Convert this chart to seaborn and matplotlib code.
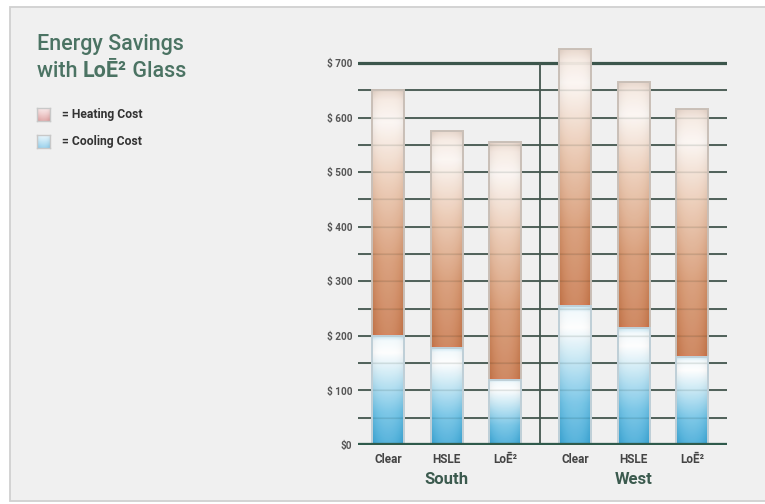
import numpy as np
import pandas as pd
import matplotlib
matplotlib.use("Agg")
import matplotlib.pyplot as plt
import seaborn as sns
from matplotlib.colors import LinearSegmentedColormap
from matplotlib.patches import Rectangle
from matplotlib.transforms import blended_transform_factory

# ---- data ----
regions = ["South", "South", "South", "West", "West", "West"]
glass_types = ["Clear", "HSLE", "LoĒ²", "Clear", "HSLE", "LoĒ²"]
total_cost = [650, 575, 555, 725, 665, 615]      # heating + cooling
cooling_cost = [200, 178, 120, 255, 215, 162]
positions = [0, 1, 2, 3.2, 4.2, 5.2]
y_ticks = [0, 100, 200, 300, 400, 500, 600, 700]
y_tick_labels = ["$0", "$ 100", "$ 200", "$ 300", "$ 400", "$ 500", "$ 600", "$ 700"]
grid_values = list(range(50, 700, 50))

sns.set_theme(style="white")
plt.rcParams["font.family"] = ["Roboto", "DejaVu Sans"]

W, H = 765, 504
fig = plt.figure(figsize=(W / 100, H / 100), dpi=100, facecolor="white")
fig.patches.append(Rectangle((10 / W, 3 / H), 760 / W, 494 / H, transform=fig.transFigure,
                             facecolor="#f0f0f0", edgecolor="#d0d0d0", lw=1.3, zorder=-10))

px_per_unit = 0.5457
ax = fig.add_axes([358 / W, 59 / H, 369 / W, 740 * px_per_unit / H])
ax.set_facecolor("none")

df = pd.DataFrame({"pos": positions, "total": total_cost, "cooling": cooling_cost,
                   "glass": glass_types, "region": regions})

bar_w = 0.547
sns.barplot(data=df, x="pos", y="total", native_scale=True, width=bar_w, errorbar=None,
            color="#c8794a", edgecolor="#c9bfb7", linewidth=1.4, ax=ax, zorder=3)
sns.barplot(data=df, x="pos", y="cooling", native_scale=True, width=bar_w, errorbar=None,
            color="#3aa6d6", edgecolor="#bfd0d8", linewidth=1.4, ax=ax, zorder=3)


def grad_img(stops, n=256, m=40):
    cmap = LinearSegmentedColormap.from_list("g", stops)
    v = cmap(np.linspace(0, 1, n))[:, :3]
    u = np.linspace(-1, 1, m)
    light = 0.16 * (1 - u ** 2)
    img = v[:, None, :] + (1 - v[:, None, :]) * light[None, :, None]
    img = img * (1 - 0.05 * u[None, :, None] ** 4)
    return np.clip(img, 0, 1)


heat_stops = [(0.0, "#cf6638"), (0.015, "#c46d3d"), (0.3, "#d28a5e"), (0.6, "#e8c0a5"),
              (0.87, "#fcf6f2"), (0.96, "#f6e8df"), (1.0, "#e4d0c3")]
cool_stops = [(0.0, "#2a9fd3"), (0.3, "#5dbbe3"), (0.62, "#bfe5f4"),
              (0.84, "#ffffff"), (0.95, "#f2fafd"), (1.0, "#b8e0f1")]
heat_img = grad_img(heat_stops)
cool_img = grad_img(cool_stops)

tot_bars = ax.containers[0]
cool_bars = ax.containers[1]
for pt, pc in zip(tot_bars, cool_bars):
    x0, w = pt.get_x(), pt.get_width()
    top, ctop = pt.get_height(), pc.get_height()
    ax.imshow(heat_img, extent=[x0, x0 + w, ctop, top], origin="lower", aspect="auto",
              interpolation="bilinear", zorder=2.5, alpha=0.94)
    ax.imshow(cool_img, extent=[x0, x0 + w, 0, ctop], origin="lower", aspect="auto",
              interpolation="bilinear", zorder=2.5, alpha=0.94)
    pt.set_facecolor("none")
    pc.set_facecolor("none")

# grid lines
line_col = "#44574f"
for v in grid_values:
    ax.axhline(v, color=line_col, lw=1.3, zorder=1)
    ax.axhline(v, color=line_col, lw=1.0, zorder=2.7, alpha=0.10)
ax.axhline(700, color="#3c564c", lw=2.3, zorder=1)
ax.axhline(0, color="#2f5a4b", lw=3.8, zorder=4)
sep = (positions[2] + positions[3]) / 2
ax.plot([sep, sep], [0, 700], color=line_col, lw=1.3, zorder=1)

ax.set_xlim(-0.513, 5.795)
ax.set_ylim(0, 740)
for s in ax.spines.values():
    s.set_visible(False)
ax.set_xlabel("")
ax.set_ylabel("")

ax.set_yticks(y_ticks, y_tick_labels)
ax.tick_params(axis="y", length=0, pad=4.3, labelsize=7.2, labelcolor="#555555")
for lab in ax.get_yticklabels():
    lab.set_fontweight("bold")
ax.set_xticks(positions, glass_types)
ax.tick_params(axis="x", length=0, pad=5.5, labelsize=8.5, labelcolor="#444444")
for lab in ax.get_xticklabels():
    lab.set_fontweight("bold")

# group labels
tr = blended_transform_factory(ax.transData, fig.transFigure)
for reg in ["South", "West"]:
    cx = np.mean([p for p, r in zip(positions, regions) if r == reg])
    ax.text(cx, 1 - 480 / H, reg, transform=tr, ha="center", va="center",
            fontsize=12, fontweight="bold", color="#3b5a4e")

# title
title_col = "#4b7363"
fs_t = 15.5
fig.text(37 / W, 1 - 50 / H, "Energy Savings", fontsize=fs_t, color=title_col,
         va="baseline", fontweight="medium")
t1 = fig.text(37 / W, 1 - 77 / H, "with ", fontsize=fs_t, color=title_col, va="baseline",
              fontweight="medium")
t2 = ax.annotate("LoĒ²", xy=(1, 0), xycoords=t1, va="bottom", ha="left", fontsize=fs_t,
                 fontweight="bold", color=title_col, annotation_clip=False)
ax.annotate(" Glass", xy=(1, 0), xycoords=t2, va="bottom", ha="left", fontsize=fs_t,
            color=title_col, annotation_clip=False, fontweight="medium")

# legend
def legend_icon(y_top, stops, label):
    iax = fig.add_axes([37 / W, 1 - (y_top + 13) / H, 13 / W, 13 / H])
    iax.imshow(grad_img(stops, 64, 16), origin="lower", aspect="auto",
               interpolation="bilinear")
    iax.set_xticks([])
    iax.set_yticks([])
    for s in iax.spines.values():
        s.set_edgecolor("#c8c8c8")
        s.set_linewidth(1.0)
    fig.text(62 / W, 1 - (y_top + 6.5) / H, label, fontsize=8.7, color="#333333",
             va="center", fontweight="bold")


legend_icon(108, [(0, "#dc9c9c"), (0.6, "#f0cccc"), (1, "#f7e6e6")], "= Heating Cost")
legend_icon(135, [(0, "#8ccbea"), (0.6, "#c9e8f6"), (1, "#eaf6fc")], "= Cooling Cost")

fig.savefig("out.png", dpi=100, facecolor=fig.get_facecolor())
